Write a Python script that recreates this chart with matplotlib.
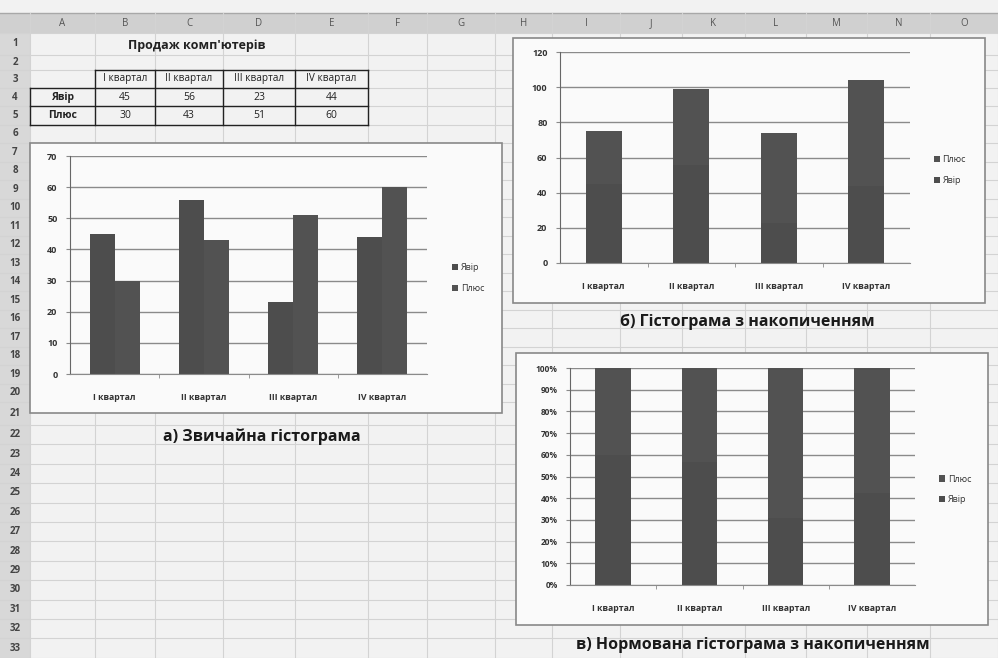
import matplotlib
matplotlib.use('Agg')
import matplotlib.pyplot as plt
from matplotlib.patches import Rectangle
from matplotlib.ticker import MultipleLocator, PercentFormatter, FixedLocator
import numpy as np

# ---------------- data ----------------
quarters = ["I квартал", "II квартал", "III квартал", "IV квартал"]
yavir = [45, 56, 23, 44]
plyus = [30, 43, 51, 60]
series_names = ["Явір", "Плюс"]
col_letters = list("ABCDEFGHIJKLMNO")
table_title = "Продаж комп'ютерів"
captions = ["а) Звичайна гістограма",
            "б) Гістограма з накопиченням",
            "в) Нормована гістограма з накопиченням"]

FONT = ['Open Sans', 'DejaVu Sans']
plt.rcParams['font.family'] = FONT

W, H = 998, 658
fig = plt.figure(figsize=(W / 100, H / 100), dpi=100, facecolor='#f2f2f2')
bg = fig.add_axes([0, 0, 1, 1])
bg.set_xlim(0, W)
bg.set_ylim(H, 0)
bg.axis('off')


def frac(x0, y0, x1, y1):
    return [x0 / W, 1 - y1 / H, (x1 - x0) / W, (y1 - y0) / H]


# ---------------- spreadsheet background ----------------
col_edges = [30, 95, 155, 223, 295, 368, 427, 495, 552, 620, 682, 745, 806, 867, 930, 998]
row_edges = [33, 55, 70, 88, 106, 125, 143]
row_edges += [143 + 18.5 * k for k in range(1, 15)]
row_edges += [425]
row_edges += [425 + 19.4 * k for k in range(1, 13)]

bg.add_patch(Rectangle((0, 13), W, 20, facecolor='#d0d0d0', edgecolor='none', zorder=1))
bg.add_patch(Rectangle((0, 33), 30, H - 33, facecolor='#d8d8d8', edgecolor='none', zorder=1))
bg.plot([0, W], [13, 13], color='#a8a8a8', lw=1, zorder=1)
for x in col_edges:
    bg.plot([x, x], [13, H], color='#d3d3d3', lw=0.8, zorder=1)
for y in row_edges:
    bg.plot([0, W], [y, y], color='#d3d3d3', lw=0.8, zorder=1)
for i, letter in enumerate(col_letters):
    cx = (col_edges[i] + col_edges[i + 1]) / 2
    bg.text(cx, 24, letter, ha='center', va='center', fontsize=7, color='#555555', zorder=3)
for r in range(len(row_edges) - 1):
    cy = (row_edges[r] + row_edges[r + 1]) / 2
    bg.text(15, cy, str(r + 1), ha='center', va='center', fontsize=7,
            fontweight='bold', color='#444444', zorder=3)

# ---------------- data table ----------------
bg.text(197, 46, table_title, ha='center', va='center', fontsize=9, fontweight='bold',
        color='#222222', zorder=3)
ty = row_edges[2:6]          # rows 3..5
tx = col_edges[0:6]          # columns A..E
lc = '#222222'
bg.plot([tx[1], tx[5]], [ty[0], ty[0]], color=lc, lw=1, zorder=3)
for y in ty[1:]:
    bg.plot([tx[0], tx[5]], [y, y], color=lc, lw=1, zorder=3)
for x in tx[1:]:
    bg.plot([x, x], [ty[0], ty[3]], color=lc, lw=1, zorder=3)
bg.plot([tx[0], tx[0]], [ty[1], ty[3]], color=lc, lw=1, zorder=3)
for j, q in enumerate(quarters):
    bg.text((tx[j + 1] + tx[j + 2]) / 2, (ty[0] + ty[1]) / 2, q, ha='center', va='center',
            fontsize=7.2, color='#222222', zorder=3)
for i, (name, vals) in enumerate(zip(series_names, [yavir, plyus])):
    cy = (ty[i + 1] + ty[i + 2]) / 2
    bg.text((tx[0] + tx[1]) / 2, cy, name, ha='center', va='center', fontsize=7.5,
            fontweight='bold', color='#222222', zorder=3)
    for j, v in enumerate(vals):
        bg.text((tx[j + 1] + tx[j + 2]) / 2, cy, str(v), ha='center', va='center',
                fontsize=7.5, color='#222222', zorder=3)

# ---------------- chart frames ----------------
frames = [(30, 143, 502, 413), (513, 38, 985, 303), (516, 353, 988, 625)]
for (x0, y0, x1, y1) in frames:
    bg.add_patch(Rectangle((x0, y0), x1 - x0, y1 - y0, facecolor='#fafafa',
                           edgecolor='#888888', lw=1.2, zorder=2))

bg.text(262, 437, captions[0], ha='center', va='center', fontsize=11.5, fontweight='bold',
        color='#1a1a1a', zorder=3)
bg.text(747, 322, captions[1], ha='center', va='center', fontsize=11.5, fontweight='bold',
        color='#1a1a1a', zorder=3)
bg.text(753, 645, captions[2], ha='center', va='center', fontsize=11.5, fontweight='bold',
        color='#1a1a1a', zorder=3)

C_YAVIR = '#4d4d4d'
C_PLYUS = '#525252'


def setup(ax, ymax, step):
    ax.set_facecolor('none')
    ax.set_xlim(-0.5, 3.5)
    ax.set_ylim(0, ymax)
    ax.yaxis.set_major_locator(MultipleLocator(step))
    ax.grid(axis='y', color='#8a8a8a', lw=1.0)
    ax.set_axisbelow(True)
    for s in ['top', 'right']:
        ax.spines[s].set_visible(False)
    ax.spines['left'].set_color('#666666')
    ax.spines['bottom'].set_color('#8a8a8a')
    ax.tick_params(axis='y', length=3, color='#8a8a8a', pad=6, labelsize=6.5,
                   labelcolor='#333333')
    ax.tick_params(axis='x', which='major', length=0, pad=14, labelsize=6.3,
                   labelcolor='#333333')
    ax.xaxis.set_minor_locator(FixedLocator([0.5, 1.5, 2.5]))
    ax.tick_params(axis='x', which='minor', length=3, color='#8a8a8a')
    x = np.arange(len(quarters))
    ax.set_xticks(x)
    ax.set_xticklabels(quarters, fontweight='bold')
    for lab in ax.get_yticklabels():
        lab.set_fontweight('bold')
    return x


def legend(ax, handles, labels, xa, ya):
    ax.legend(handles, labels, loc='center left', bbox_to_anchor=(xa, ya), frameon=False,
              fontsize=6.5, handlelength=0.7, handleheight=0.7, handletextpad=0.3,
              labelspacing=1.3, borderaxespad=0, labelcolor='#333333')


# ---------------- chart a: clustered ----------------
axa = fig.add_axes(frac(70, 156, 427, 374))
x = setup(axa, 70, 10)
bw = 0.28
ha = axa.bar(x - bw / 2, yavir, bw, color=C_YAVIR, label=series_names[0])
hb = axa.bar(x + bw / 2, plyus, bw, color=C_PLYUS, label=series_names[1])
legend(axa, [ha, hb], series_names, 1.06, 0.44)

# ---------------- chart b: stacked ----------------
axb = fig.add_axes(frac(560, 52, 910, 263))
x = setup(axb, 120, 20)
bw = 0.41
h1 = axb.bar(x, yavir, bw, color=C_YAVIR)
h2 = axb.bar(x, plyus, bw, bottom=yavir, color=C_PLYUS)
legend(axb, [h2, h1], [series_names[1], series_names[0]], 1.057, 0.44)

# ---------------- chart c: 100% stacked ----------------
axc = fig.add_axes(frac(570, 368, 915, 585))
x = setup(axc, 1.0, 0.1)
tot = np.array(yavir, float) + np.array(plyus, float)
sy = np.array(yavir) / tot
sp = np.array(plyus) / tot
h1 = axc.bar(x, sy, bw, color=C_YAVIR)
h2 = axc.bar(x, sp, bw, bottom=sy, color=C_PLYUS)
axc.yaxis.set_major_formatter(PercentFormatter(1.0, decimals=0))
for lab in axc.get_yticklabels():
    lab.set_fontweight('bold')
axc.tick_params(axis='y', labelsize=6)
legend(axc, [h2, h1], [series_names[1], series_names[0]], 1.058, 0.44)

fig.savefig('out.png', dpi=100, facecolor=fig.get_facecolor())
